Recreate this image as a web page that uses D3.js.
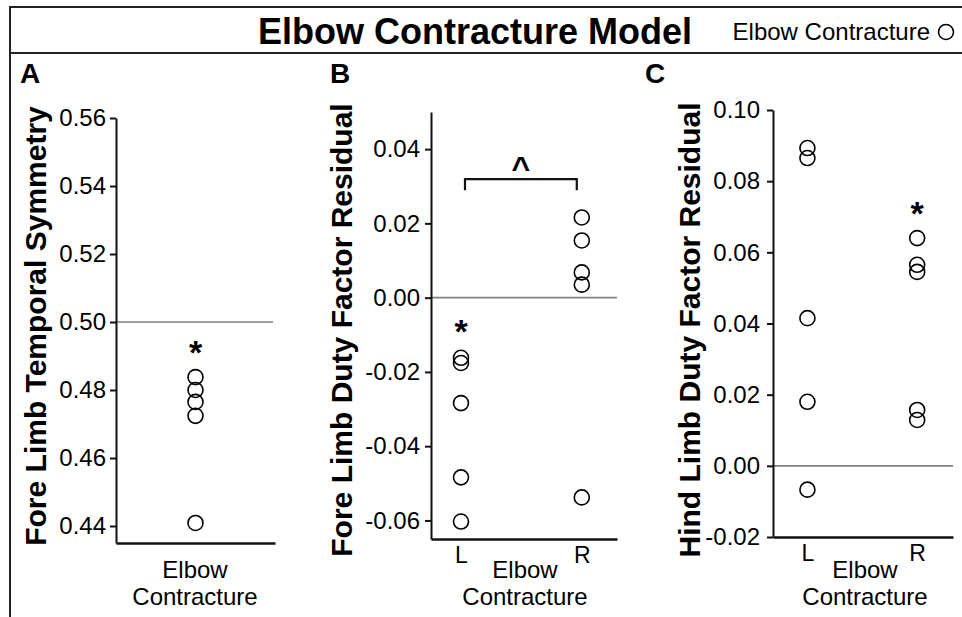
<!DOCTYPE html>
<html>
<head>
<meta charset="utf-8">
<script src="https://cdn.jsdelivr.net/npm/d3@7"></script>
<style>
  body { margin: 0; background: #fff; }
  text { font-family: "Liberation Sans", Arial, sans-serif; fill: #000; }
</style>
</head>
<body>
<div id="chart"></div>
<script>
// values
const groupsA = ["Elbow Contracture"];
const sidesBC = ["L", "R"];

const foreSymmetry = [0.4838, 0.4800, 0.4765, 0.4724, 0.4409];
const foreDutyL = [-0.0162, -0.0176, -0.0284, -0.0484, -0.0603];
const foreDutyR = [0.0216, 0.0154, 0.0068, 0.0035, -0.0538];
const hindDutyL = [0.0893, 0.0865, 0.0415, 0.0180, -0.0067];
const hindDutyR = [0.0640, 0.0565, 0.0545, 0.0157, 0.0129];

const ticksA = [0.44, 0.46, 0.48, 0.50, 0.52, 0.54, 0.56];
const ticksB = [-0.06, -0.04, -0.02, 0.00, 0.02, 0.04];
const ticksC = [-0.02, 0.00, 0.02, 0.04, 0.06, 0.08, 0.10];

// significance marks: [group, value]
const starsA = [["Elbow Contracture", 0.4935]];
const starsB = [["L", -0.0068]];
const starsC = [["R", 0.0733]];
const bracketB = { from: "L", to: "R", value: 0.0319, drop: 0.003, mark: "^" };

const w = 962, h = 617;
const svg = d3.select("#chart").append("svg")
    .attr("width", w)
    .attr("height", h);

const fmt = d => d3.format(".2f")(d).replace("\u2212", "-");

// frame
svg.append("path")
    .attr("d", `M${w},7 H10 V${h}`)
    .attr("fill", "none").attr("stroke", "#222").attr("stroke-width", 2);
svg.append("line")
    .attr("x1", 10).attr("x2", w).attr("y1", 53).attr("y2", 53)
    .attr("stroke", "#222").attr("stroke-width", 2);

svg.append("text")
    .attr("x", 475).attr("y", 44)
    .attr("text-anchor", "middle")
    .style("font-size", "36px").style("font-weight", "bold")
    .text("Elbow Contracture Model");

svg.append("text")
    .attr("x", 930).attr("y", 40)
    .attr("text-anchor", "end")
    .style("font-size", "24px")
    .text("Elbow Contracture");
svg.append("circle")
    .attr("cx", 946).attr("cy", 32).attr("r", 7.5)
    .attr("fill", "none").attr("stroke", "#000").attr("stroke-width", 1.6);

function panel(cfg) {
    const g = svg.append("g");

    const y = d3.scaleLinear().domain(cfg.yDomain).range(cfg.yRange);
    const x = d3.scalePoint().domain(cfg.groups).range(cfg.xRange)
        .padding(cfg.pad).align(cfg.align);

    g.append("text")
        .attr("x", cfg.letterX).attr("y", 83)
        .style("font-size", "28px").style("font-weight", "bold")
        .text(cfg.letter);

    // reference line
    g.append("line")
        .attr("x1", cfg.xRange[0]).attr("x2", cfg.refEnd)
        .attr("y1", y(cfg.refValue)).attr("y2", y(cfg.refValue))
        .attr("stroke", "#808080").attr("stroke-width", 1.6);

    const yAxis = g.append("g")
        .attr("transform", `translate(${cfg.xRange[0]},0)`)
        .call(d3.axisLeft(y).tickValues(cfg.ticks).tickFormat(fmt)
            .tickSize(6).tickSizeOuter(0).tickPadding(cfg.tickPad));
    yAxis.select(".domain").attr("stroke", "#111").attr("stroke-width", 2);
    yAxis.selectAll(".tick line").attr("stroke", "#111").attr("stroke-width", 2);
    yAxis.selectAll(".tick text")
        .style("font-size", "24px").style("font-family", "Liberation Sans, Arial, sans-serif")
        .attr("fill", "#000");

    const xAxis = g.append("g")
        .attr("transform", `translate(0,${cfg.yRange[0]})`)
        .call(d3.axisBottom(x).tickSize(0).tickSizeOuter(0).tickPadding(8)
            .tickFormat(cfg.showTicks ? d => d : () => ""));
    xAxis.select(".domain").attr("stroke", "#111").attr("stroke-width", 2.5);
    xAxis.selectAll(".tick text")
        .style("font-size", "23px").style("font-family", "Liberation Sans, Arial, sans-serif")
        .attr("fill", "#000");

    // axis title under the plot
    const xt = g.append("text")
        .attr("text-anchor", "middle")
        .style("font-size", "24px");
    xt.append("tspan").attr("x", cfg.xTitleX).attr("y", 578).text("Elbow");
    xt.append("tspan").attr("x", cfg.xTitleX).attr("y", 605).text("Contracture");

    g.append("text")
        .attr("transform", `translate(${cfg.yTitleX},${cfg.yTitleY}) rotate(-90)`)
        .attr("text-anchor", "middle")
        .style("font-size", "30px").style("font-weight", "bold")
        .text(cfg.yTitle);

    cfg.series.forEach(s => {
        g.selectAll(null)
            .data(s.values)
            .enter().append("circle")
            .attr("cx", x(s.group))
            .attr("cy", d => y(d))
            .attr("r", 7.5)
            .attr("fill", "none")
            .attr("stroke", "#000")
            .attr("stroke-width", 1.6);
    });

    g.selectAll(null)
        .data(cfg.stars)
        .enter().append("text")
        .attr("x", d => x(d[0]))
        .attr("y", d => y(d[1]))
        .attr("dy", "0.58em")
        .attr("text-anchor", "middle")
        .style("font-size", "34px").style("font-weight", "bold")
        .text("*");

    return { x, y, g };
}

panel({
    letter: "A", letterX: 20,
    groups: groupsA, xRange: [116, 275], pad: 0.5, align: 0.5, showTicks: false,
    yDomain: [0.435, 0.56], yRange: [543, 118], ticks: ticksA, tickPad: 4,
    refValue: 0.50, refEnd: 273,
    xTitleX: 195, yTitleX: 46, yTitleY: 326,
    yTitle: "Fore Limb Temporal Symmetry",
    series: [{ group: "Elbow Contracture", values: foreSymmetry }],
    stars: starsA
});

const pB = panel({
    letter: "B", letterX: 330,
    groups: sidesBC, xRange: [431, 617], pad: 0.27, align: 0.46, showTicks: true,
    yDomain: [-0.065, 0.05], yRange: [539, 112], ticks: ticksB, tickPad: 5,
    refValue: 0, refEnd: 617,
    xTitleX: 525, yTitleX: 352, yTitleY: 330,
    yTitle: "Fore Limb Duty Factor Residual",
    series: [{ group: "L", values: foreDutyL }, { group: "R", values: foreDutyR }],
    stars: starsB
});

// bracket between L and R
const bx1 = pB.x(bracketB.from) + 4, bx2 = pB.x(bracketB.to) - 5;
const by = pB.y(bracketB.value), byd = pB.y(bracketB.value - bracketB.drop);
pB.g.append("path")
    .attr("d", `M${bx1},${byd} V${by} H${bx2} V${byd}`)
    .attr("fill", "none").attr("stroke", "#111").attr("stroke-width", 2.2);
pB.g.append("text")
    .attr("x", (bx1 + bx2) / 2).attr("y", pB.y(0.0368))
    .attr("dy", "0.57em")
    .attr("text-anchor", "middle")
    .style("font-size", "32px").style("font-weight", "bold")
    .text(bracketB.mark);

panel({
    letter: "C", letterX: 645,
    groups: sidesBC, xRange: [773, 953], pad: 0.32, align: 0.49, showTicks: true,
    yDomain: [-0.02, 0.10], yRange: [537, 110], ticks: ticksC, tickPad: 7,
    refValue: 0, refEnd: 953,
    xTitleX: 865, yTitleX: 700, yTitleY: 330,
    yTitle: "Hind Limb Duty Factor Residual",
    series: [{ group: "L", values: hindDutyL }, { group: "R", values: hindDutyR }],
    stars: starsC
});
</script>
</body>
</html>
